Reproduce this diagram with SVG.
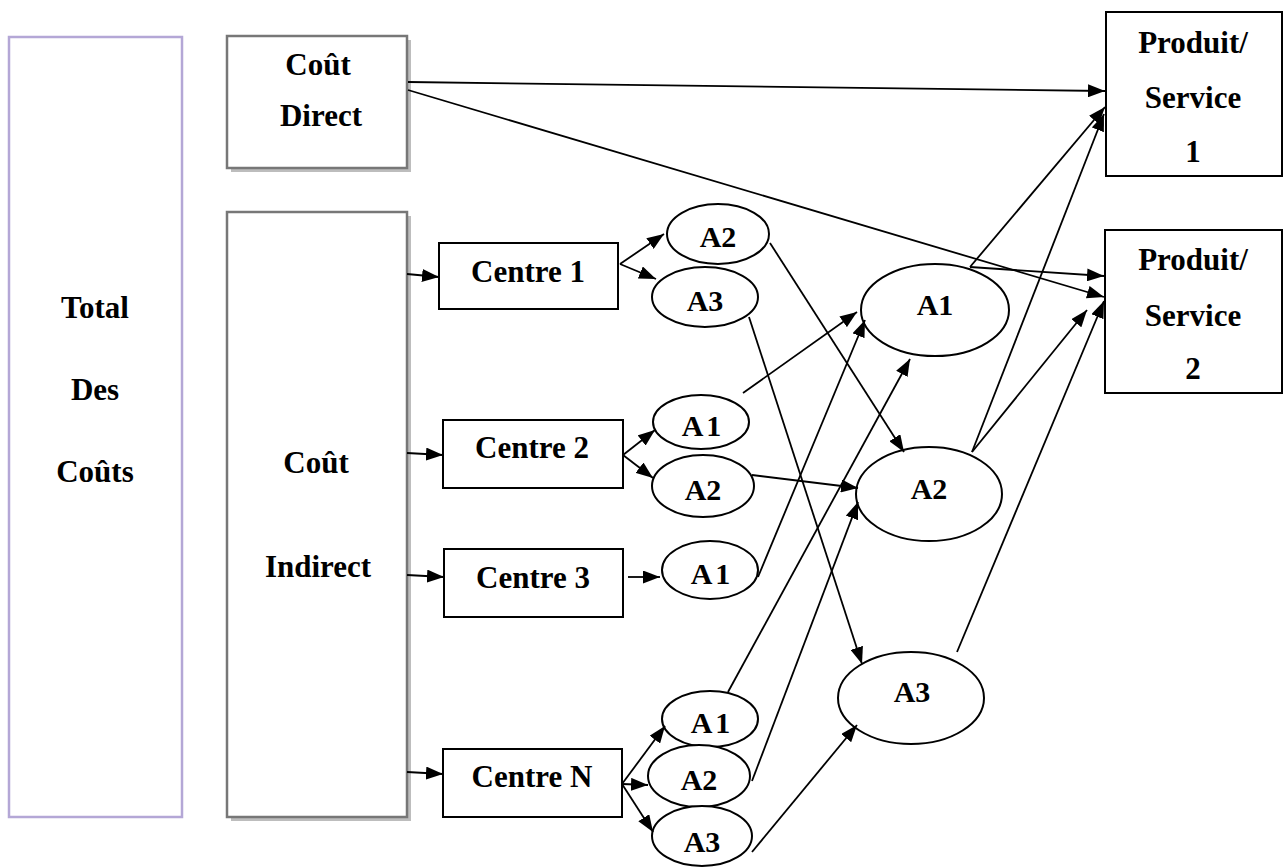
<svg xmlns="http://www.w3.org/2000/svg" width="1285" height="868" viewBox="0 0 1285 868">
  <defs>
    <marker id="arrow" viewBox="0 0 17 13" refX="17" refY="6.5" markerWidth="17" markerHeight="13" orient="auto" markerUnits="userSpaceOnUse">
      <path d="M0,0 L17,6.5 L0,13 z" fill="#000"/>
    </marker>
    <style>
      text { font-family: "Liberation Serif", "Times New Roman", serif; font-weight: bold; fill: #000; text-anchor: middle; }
      .big { font-size: 31px; }
      .lbl { font-size: 30px; }
      .total { fill: #fff; stroke: #b4a7d6; stroke-width: 2.5; }
      .gray { fill: #fff; stroke: #777; stroke-width: 2.5; }
      .shadow { fill: #bdbdbd; stroke: none; }
      .box { fill: #fff; stroke: #000; stroke-width: 2; }
      .ell { fill: #fff; stroke: #000; stroke-width: 2; }
      .conn line { stroke: #000; stroke-width: 1.8; fill: none; }
      .arr { marker-end: url(#arrow); }
    </style>
  </defs>
  <rect width="1285" height="868" fill="#fff"/>

  <!-- left column -->
  <g id="total">
    <rect class="total" x="9" y="37" width="173" height="780"/>
    <text class="big" x="95" y="318">Total</text>
    <text class="big" x="95" y="400">Des</text>
    <text class="big" x="95" y="482">Coûts</text>
  </g>

  <g id="cout-direct">
    <rect class="shadow" x="231" y="40" width="180" height="132"/>
    <rect class="gray" x="227" y="36" width="180" height="132"/>
    <text class="big" x="318" y="75">Coût</text>
    <text class="big" x="321" y="126">Direct</text>
  </g>

  <g id="cout-indirect">
    <rect class="shadow" x="231" y="216" width="180" height="605"/>
    <rect class="gray" x="227" y="212" width="180" height="605"/>
    <text class="big" x="316" y="473">Coût</text>
    <text class="big" x="318" y="577">Indirect</text>
  </g>

  <!-- cost centres -->
  <g id="centre-1">
    <rect class="box" x="439" y="243" width="179" height="66"/>
    <text class="big" x="528" y="282">Centre 1</text>
  </g>
  <g id="centre-2">
    <rect class="box" x="443" y="420" width="180" height="68"/>
    <text class="big" x="532" y="458">Centre 2</text>
  </g>
  <g id="centre-3">
    <rect class="box" x="444" y="549" width="179" height="68"/>
    <text class="big" x="533" y="588">Centre 3</text>
  </g>
  <g id="centre-n">
    <rect class="box" x="443" y="749" width="179" height="68"/>
    <text class="big" x="532" y="787">Centre N</text>
  </g>

  <!-- activities per centre -->
  <g id="c1-a2">
    <ellipse class="ell" cx="718" cy="234" rx="51" ry="30"/>
    <text class="lbl" x="718" y="247">A2</text>
  </g>
  <g id="c1-a3">
    <ellipse class="ell" cx="705" cy="297" rx="53" ry="30"/>
    <text class="lbl" x="705" y="311">A3</text>
  </g>
  <g id="c2-a1">
    <ellipse class="ell" cx="701" cy="422" rx="48" ry="27"/>
    <text class="lbl" x="703" y="436" letter-spacing="3">A1</text>
  </g>
  <g id="c2-a2">
    <ellipse class="ell" cx="703" cy="486" rx="51" ry="31"/>
    <text class="lbl" x="703" y="500">A2</text>
  </g>
  <g id="c3-a1">
    <ellipse class="ell" cx="710" cy="570" rx="48" ry="29"/>
    <text class="lbl" x="712" y="584" letter-spacing="3">A1</text>
  </g>
  <g id="cn-a1">
    <ellipse class="ell" cx="710" cy="719" rx="48" ry="28"/>
    <text class="lbl" x="712" y="733" letter-spacing="3">A1</text>
  </g>
  <g id="cn-a2">
    <ellipse class="ell" cx="699" cy="776" rx="51" ry="31"/>
    <text class="lbl" x="699" y="790">A2</text>
  </g>
  <g id="cn-a3">
    <ellipse class="ell" cx="702" cy="836" rx="50" ry="30"/>
    <text class="lbl" x="702" y="852">A3</text>
  </g>

  <!-- pooled activities -->
  <g id="pool-a1">
    <ellipse class="ell" cx="935" cy="310" rx="74" ry="46"/>
    <text class="lbl" x="935" y="315">A1</text>
  </g>
  <g id="pool-a2">
    <ellipse class="ell" cx="929" cy="494" rx="73" ry="47"/>
    <text class="lbl" x="929" y="499">A2</text>
  </g>
  <g id="pool-a3">
    <ellipse class="ell" cx="911" cy="698" rx="73" ry="46"/>
    <text class="lbl" x="912" y="702">A3</text>
  </g>

  <!-- products -->
  <g id="produit-1">
    <rect class="box" x="1106" y="12" width="176" height="164"/>
    <text class="big" x="1193" y="53">Produit/</text>
    <text class="big" x="1193" y="108">Service</text>
    <text class="big" x="1193" y="162">1</text>
  </g>
  <g id="produit-2">
    <rect class="box" x="1105" y="230" width="177" height="163"/>
    <text class="big" x="1193" y="270">Produit/</text>
    <text class="big" x="1193" y="326">Service</text>
    <text class="big" x="1193" y="379">2</text>
  </g>

  <g id="connectors" class="conn">
    <!-- indirect cost to centres -->
    <line class="arr" x1="407" y1="274" x2="439" y2="277"/>
    <line class="arr" x1="407" y1="453" x2="443" y2="455"/>
    <line class="arr" x1="407" y1="575" x2="444" y2="577"/>
    <line class="arr" x1="407" y1="772" x2="443" y2="774"/>
    <!-- centres to their activities -->
    <line class="arr" x1="620" y1="264" x2="664" y2="234"/>
    <line class="arr" x1="620" y1="264" x2="656" y2="279"/>
    <line class="arr" x1="623" y1="455" x2="655" y2="430"/>
    <line class="arr" x1="623" y1="455" x2="653" y2="478"/>
    <line class="arr" x1="628" y1="577" x2="660" y2="577"/>
    <line class="arr" x1="622" y1="784" x2="665" y2="726"/>
    <line class="arr" x1="622" y1="784" x2="648" y2="785"/>
    <line class="arr" x1="622" y1="784" x2="653" y2="832"/>
    <!-- direct cost to products -->
    <line class="arr" x1="408" y1="82" x2="1105" y2="91"/>
    <line class="arr" x1="408" y1="90" x2="1104" y2="297"/>
    <!-- activities to pooled activities -->
    <line class="arr" x1="770" y1="243" x2="904" y2="452"/>
    <line class="arr" x1="749" y1="317" x2="862" y2="664"/>
    <line class="arr" x1="743" y1="393" x2="857" y2="312"/>
    <line class="arr" x1="752" y1="475" x2="858" y2="488"/>
    <line class="arr" x1="758" y1="577" x2="865" y2="320"/>
    <line class="arr" x1="728" y1="692" x2="910" y2="359"/>
    <line class="arr" x1="752" y1="781" x2="858" y2="502"/>
    <line class="arr" x1="752" y1="852" x2="857" y2="725"/>
    <!-- pooled activities to products -->
    <line class="arr" x1="970" y1="267" x2="1105" y2="107"/>
    <line class="arr" x1="970" y1="267" x2="1104" y2="276"/>
    <line class="arr" x1="972" y1="452" x2="1104" y2="114"/>
    <line class="arr" x1="972" y1="452" x2="1087" y2="310"/>
    <line class="arr" x1="957" y1="652" x2="1104" y2="301"/>
  </g>
</svg>
